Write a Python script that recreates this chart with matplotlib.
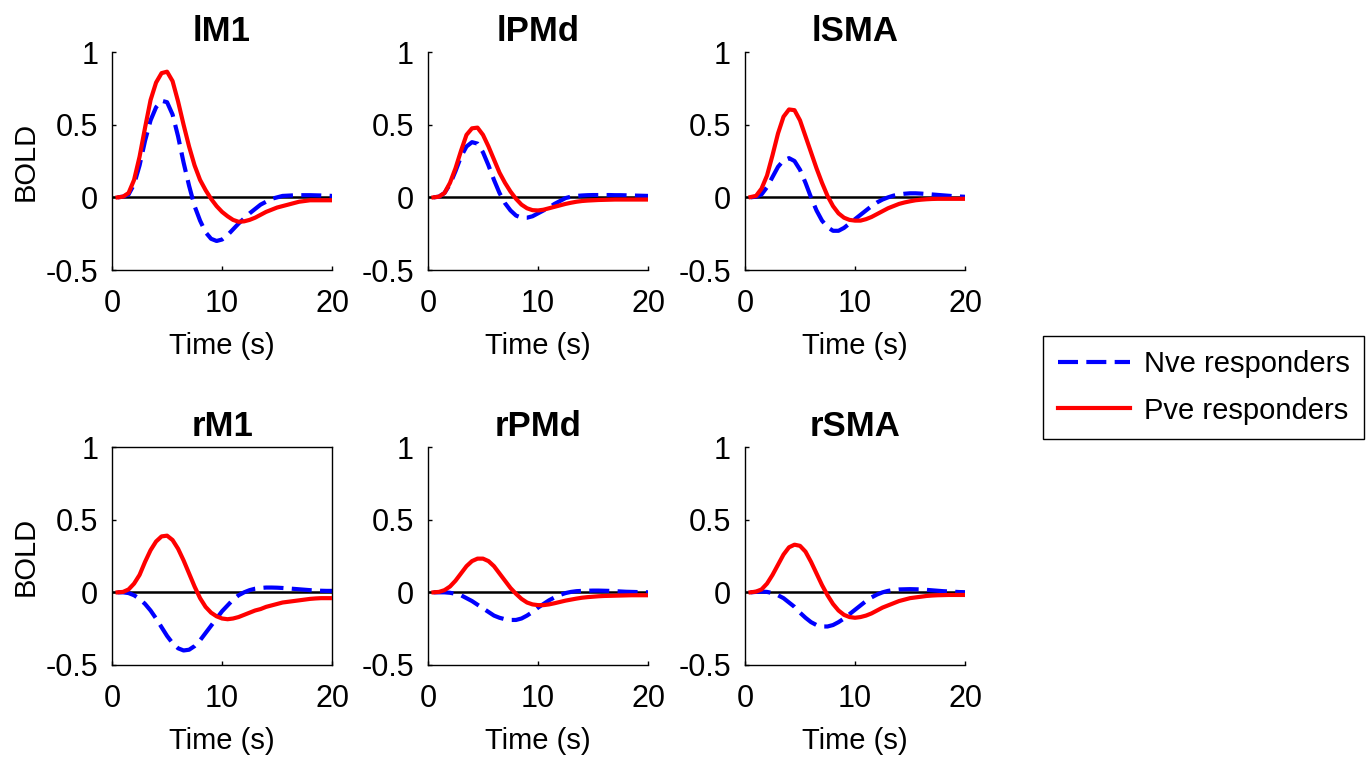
import numpy as np
import matplotlib
matplotlib.use('Agg')
import matplotlib.pyplot as plt

plt.rcParams['font.family'] = ['Liberation Sans', 'DejaVu Sans']
plt.rcParams['axes.unicode_minus'] = False

# sample times (s)
time = np.arange(0.5, 20.01, 0.5)

regions = ['lM1', 'lPMd', 'lSMA', 'rM1', 'rPMd', 'rSMA']
series_labels = ['Nve responders', 'Pve responders']

# negative responders (blue, dashed)
nve_lm1 = [0, 0.005, 0.02, 0.09, 0.22, 0.39, 0.53, 0.62, 0.665, 0.655,
           0.57, 0.42, 0.24, 0.08, -0.06, -0.16, -0.24, -0.285, -0.30, -0.29,
           -0.26, -0.22, -0.18, -0.145, -0.11, -0.08, -0.05, -0.03, -0.01, 0.0,
           0.01, 0.012, 0.014, 0.015, 0.015, 0.015, 0.014, 0.013, 0.012, 0.01]
nve_lpmd = [0, 0.005, 0.03, 0.09, 0.18, 0.28, 0.35, 0.38, 0.37, 0.31,
            0.22, 0.12, 0.03, -0.04, -0.09, -0.125, -0.14, -0.14, -0.13, -0.11,
            -0.09, -0.07, -0.045, -0.025, -0.005, 0.005, 0.01, 0.013, 0.015, 0.016,
            0.016, 0.016, 0.016, 0.015, 0.015, 0.014, 0.013, 0.012, 0.011, 0.01]
nve_lsma = [0, 0.005, 0.02, 0.07, 0.14, 0.21, 0.255, 0.27, 0.25, 0.19,
            0.10, 0.0, -0.09, -0.16, -0.205, -0.23, -0.23, -0.21, -0.18, -0.15,
            -0.12, -0.09, -0.06, -0.035, -0.015, 0.0, 0.012, 0.02, 0.025, 0.028,
            0.028, 0.026, 0.023, 0.02, 0.017, 0.014, 0.011, 0.008, 0.006, 0.004]
nve_rm1 = [0, 0, -0.005, -0.02, -0.045, -0.08, -0.125, -0.18, -0.24, -0.30,
           -0.35, -0.385, -0.40, -0.395, -0.37, -0.33, -0.28, -0.23, -0.18, -0.13,
           -0.09, -0.05, -0.02, 0.0, 0.015, 0.025, 0.03, 0.033, 0.033, 0.032,
           0.03, 0.027, 0.024, 0.021, 0.018, 0.015, 0.013, 0.011, 0.01, 0.01]
nve_rpmd = [0, 0, 0, -0.003, -0.01, -0.02, -0.04, -0.06, -0.085, -0.11,
            -0.135, -0.16, -0.175, -0.185, -0.19, -0.19, -0.18, -0.16, -0.135, -0.105,
            -0.08, -0.055, -0.035, -0.018, -0.005, 0.003, 0.008, 0.01, 0.011, 0.012,
            0.012, 0.011, 0.01, 0.008, 0.006, 0.004, 0.003, 0.002, 0.001, 0.0]
nve_rsma = [0, 0.003, 0.005, 0.003, -0.005, -0.02, -0.04, -0.07, -0.10, -0.14,
            -0.175, -0.205, -0.225, -0.235, -0.235, -0.225, -0.205, -0.18, -0.15, -0.12,
            -0.09, -0.06, -0.035, -0.015, 0.0, 0.01, 0.016, 0.02, 0.021, 0.022,
            0.021, 0.02, 0.017, 0.014, 0.011, 0.008, 0.006, 0.004, 0.002, 0.001]

# positive responders (red, solid)
pve_lm1 = [0, 0.005, 0.03, 0.12, 0.28, 0.48, 0.67, 0.79, 0.855, 0.865,
           0.80, 0.66, 0.50, 0.35, 0.22, 0.12, 0.05, -0.01, -0.06, -0.10,
           -0.13, -0.155, -0.168, -0.165, -0.155, -0.14, -0.12, -0.10, -0.085, -0.07,
           -0.06, -0.05, -0.04, -0.03, -0.025, -0.02, -0.02, -0.02, -0.02, -0.02]
pve_lpmd = [0, 0.005, 0.03, 0.10, 0.20, 0.32, 0.43, 0.475, 0.48, 0.43,
            0.35, 0.26, 0.17, 0.10, 0.04, -0.01, -0.05, -0.075, -0.088, -0.09,
            -0.085, -0.075, -0.065, -0.055, -0.045, -0.037, -0.03, -0.025, -0.022, -0.02,
            -0.018, -0.017, -0.016, -0.015, -0.015, -0.015, -0.015, -0.015, -0.015, -0.015]
pve_lsma = [0.002, 0.01, 0.06, 0.15, 0.29, 0.44, 0.555, 0.605, 0.60, 0.53,
            0.42, 0.31, 0.20, 0.10, 0.01, -0.06, -0.11, -0.14, -0.155, -0.16,
            -0.16, -0.15, -0.135, -0.115, -0.095, -0.075, -0.06, -0.045, -0.035, -0.027,
            -0.02, -0.016, -0.013, -0.011, -0.01, -0.01, -0.01, -0.01, -0.01, -0.01]
pve_rm1 = [0, 0.003, 0.02, 0.06, 0.12, 0.21, 0.29, 0.35, 0.385, 0.39,
           0.36, 0.30, 0.22, 0.13, 0.04, -0.04, -0.10, -0.14, -0.165, -0.18,
           -0.185, -0.18, -0.17, -0.155, -0.14, -0.125, -0.115, -0.10, -0.09, -0.08,
           -0.07, -0.065, -0.06, -0.055, -0.05, -0.045, -0.042, -0.04, -0.04, -0.04]
pve_rpmd = [0, 0.003, 0.015, 0.04, 0.08, 0.13, 0.18, 0.215, 0.232, 0.232,
            0.215, 0.18, 0.13, 0.08, 0.03, -0.01, -0.045, -0.07, -0.083, -0.088,
            -0.088, -0.083, -0.075, -0.066, -0.057, -0.05, -0.043, -0.037, -0.033, -0.03,
            -0.027, -0.025, -0.024, -0.023, -0.022, -0.021, -0.02, -0.02, -0.02, -0.02]
pve_rsma = [0, 0.005, 0.02, 0.06, 0.12, 0.19, 0.26, 0.31, 0.328, 0.32,
            0.28, 0.21, 0.13, 0.05, -0.02, -0.08, -0.125, -0.155, -0.17, -0.175,
            -0.17, -0.16, -0.145, -0.125, -0.105, -0.09, -0.075, -0.06, -0.05, -0.04,
            -0.035, -0.03, -0.025, -0.022, -0.02, -0.019, -0.018, -0.018, -0.018, -0.018]

nve = [nve_lm1, nve_lpmd, nve_lsma, nve_rm1, nve_rpmd, nve_rsma]
pve = [pve_lm1, pve_lpmd, pve_lsma, pve_rm1, pve_rpmd, pve_rsma]

xticks = [0, 10, 20]
yticks = [-0.5, 0, 0.5, 1]
ytick_labels = ['-0.5', '0', '0.5', '1']

fig = plt.figure(figsize=(13.7, 7.6), dpi=100)

lefts = [0.0818, 0.3124, 0.5438]
bottoms = [0.6447, 0.125]
w, h = 0.1606, 0.2868

handles = None
for i, name in enumerate(regions):
    row, col = divmod(i, 3)
    ax = fig.add_axes([lefts[col], bottoms[row], w, h])
    ax.axhline(0, color='black', lw=1.8, zorder=1)
    l1, = ax.plot(time, nve[i], color='#0000ff', lw=3, ls=(0, (4.8, 2.0)),
                  dash_joinstyle='round', zorder=2)
    l2, = ax.plot(time, pve[i], color='#ff0000', lw=3,
                  solid_joinstyle='round', zorder=3)
    handles = [l1, l2]
    ax.set_xlim(0, 20)
    ax.set_ylim(-0.5, 1)
    ax.set_xticks(xticks)
    ax.set_yticks(yticks)
    ax.set_yticklabels(ytick_labels)
    ax.tick_params(direction='in', length=3, width=1, labelsize=22)
    ax.tick_params(axis='x', pad=14)
    ax.tick_params(axis='y', pad=10)
    for s in ax.spines.values():
        s.set_linewidth(1.0)
    if name != 'rM1':
        ax.spines['top'].set_visible(False)
        ax.spines['right'].set_visible(False)
    ax.set_title(name, fontsize=25, fontweight='bold', pad=8)
    ax.set_xlabel('Time (s)', fontsize=21, labelpad=9)
    if col == 0:
        ax.set_ylabel('BOLD', fontsize=21, labelpad=4)

leg = fig.legend(handles, series_labels, loc='center left',
                 bbox_to_anchor=(0.7613, 0.4901), fontsize=21,
                 frameon=True, fancybox=False, edgecolor='black', framealpha=1,
                 handlelength=2.5, handletextpad=0.45, labelspacing=0.62,
                 borderpad=0.5, borderaxespad=0)
leg.get_frame().set_linewidth(1.0)

fig.savefig('out.png', dpi=100)
